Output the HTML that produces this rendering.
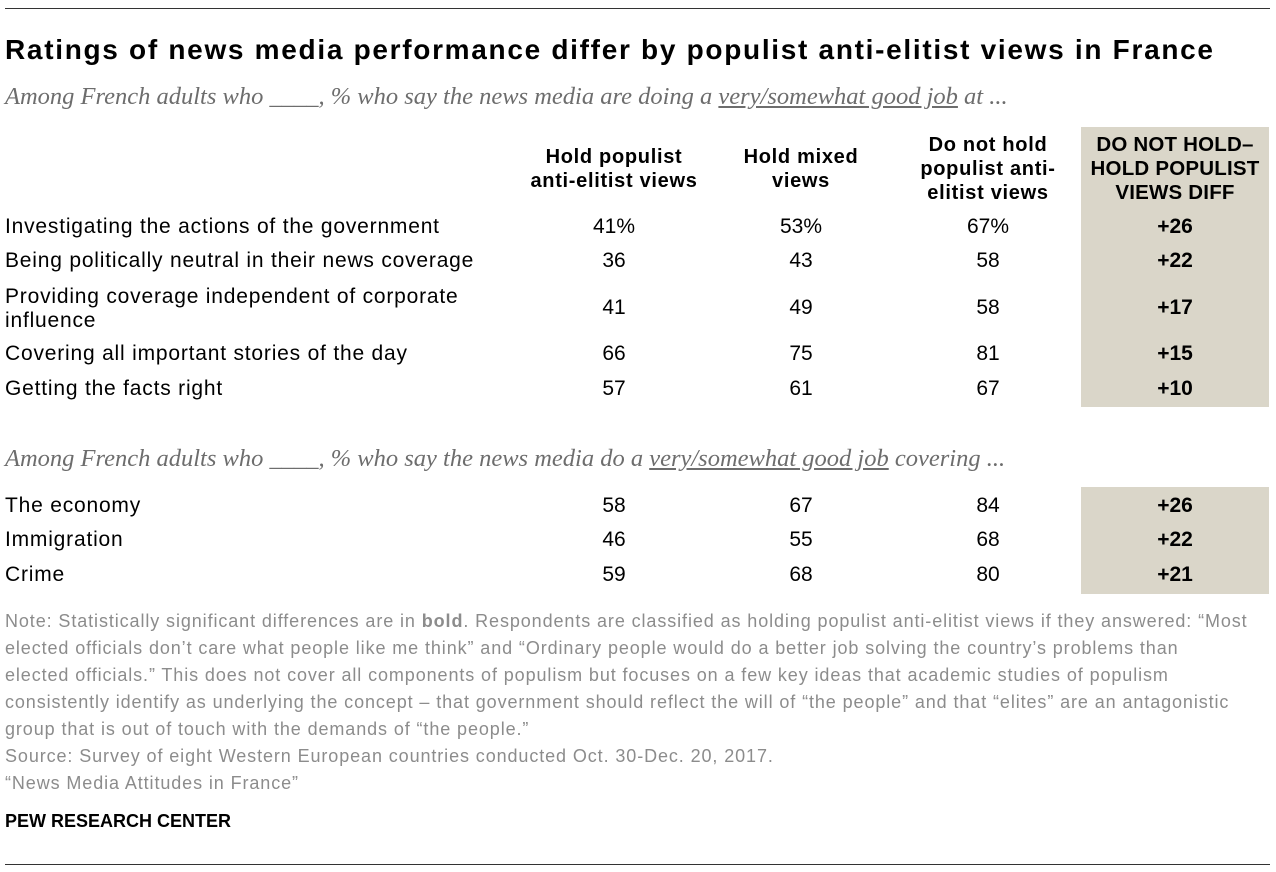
<!DOCTYPE html>
<html><head><meta charset="utf-8"><style>
body{margin:0;width:1276px;height:872px;background:#fff;position:relative;overflow:hidden;font-family:"Liberation Sans",sans-serif;color:#000}
.a{position:absolute;white-space:nowrap;line-height:24px}
.l{left:5px;font-size:21px;letter-spacing:0.8px}
.c{text-align:center;width:180px;font-size:21px}
.h{font-weight:bold;font-size:20px;letter-spacing:0.7px}
.d{font-weight:bold}
.sub{font-family:"Liberation Serif",serif;font-style:italic;font-size:24.5px;color:#6d6d6d;left:5px}
.n{left:5px;font-size:18px;letter-spacing:0.9px;color:#8c8c8c;line-height:27px}
.box{position:absolute;left:1081px;width:188px;background:#dad6c9}
.rule{position:absolute;left:5px;width:1265px;height:1px;background:#333}
</style></head><body>
<div class="rule" style="top:8px"></div>
<div class="a" style="left:5px;top:34px;font-size:28px;letter-spacing:1.7px;font-weight:bold;line-height:32px">Ratings of news media performance differ by populist anti-elitist views in France</div>
<div class="a sub" style="top:85px">Among French adults who ____, % who say the news media are doing a <u>very/somewhat good job</u> at ...</div>
<div class="box" style="top:127px;height:280px"></div>
<div class="box" style="top:487px;height:107px"></div>
<div class="a c h" style="left:524px;top:145px">Hold populist<br>anti-elitist views</div>
<div class="a c h" style="left:711px;top:145px">Hold mixed<br>views</div>
<div class="a c h" style="left:898px;top:133px">Do not hold<br>populist anti-<br>elitist views</div>
<div class="a c h" style="left:1085px;top:133px;font-size:20.5px;letter-spacing:0.2px">DO NOT HOLD–<br>HOLD POPULIST<br>VIEWS DIFF</div>

<div class="a l" style="top:215px">Investigating the actions of the government</div>
<div class="a c" style="left:524px;top:215px">41%</div>
<div class="a c" style="left:711px;top:215px">53%</div>
<div class="a c" style="left:898px;top:215px">67%</div>
<div class="a c d" style="left:1085px;top:215px">+26</div>

<div class="a l" style="top:249px">Being politically neutral in their news coverage</div>
<div class="a c" style="left:524px;top:249px">36</div>
<div class="a c" style="left:711px;top:249px">43</div>
<div class="a c" style="left:898px;top:249px">58</div>
<div class="a c d" style="left:1085px;top:249px">+22</div>

<div class="a l" style="top:285px">Providing coverage independent of corporate<br>influence</div>
<div class="a c" style="left:524px;top:296px">41</div>
<div class="a c" style="left:711px;top:296px">49</div>
<div class="a c" style="left:898px;top:296px">58</div>
<div class="a c d" style="left:1085px;top:296px">+17</div>

<div class="a l" style="top:342px">Covering all important stories of the day</div>
<div class="a c" style="left:524px;top:342px">66</div>
<div class="a c" style="left:711px;top:342px">75</div>
<div class="a c" style="left:898px;top:342px">81</div>
<div class="a c d" style="left:1085px;top:342px">+15</div>

<div class="a l" style="top:377px">Getting the facts right</div>
<div class="a c" style="left:524px;top:377px">57</div>
<div class="a c" style="left:711px;top:377px">61</div>
<div class="a c" style="left:898px;top:377px">67</div>
<div class="a c d" style="left:1085px;top:377px">+10</div>

<div class="a sub" style="top:447px">Among French adults who ____, % who say the news media do a <u>very/somewhat good job</u> covering ...</div>

<div class="a l" style="top:494px">The economy</div>
<div class="a c" style="left:524px;top:494px">58</div>
<div class="a c" style="left:711px;top:494px">67</div>
<div class="a c" style="left:898px;top:494px">84</div>
<div class="a c d" style="left:1085px;top:494px">+26</div>

<div class="a l" style="top:528px">Immigration</div>
<div class="a c" style="left:524px;top:528px">46</div>
<div class="a c" style="left:711px;top:528px">55</div>
<div class="a c" style="left:898px;top:528px">68</div>
<div class="a c d" style="left:1085px;top:528px">+22</div>

<div class="a l" style="top:563px">Crime</div>
<div class="a c" style="left:524px;top:563px">59</div>
<div class="a c" style="left:711px;top:563px">68</div>
<div class="a c" style="left:898px;top:563px">80</div>
<div class="a c d" style="left:1085px;top:563px">+21</div>

<div class="a n" style="top:608px">Note: Statistically significant differences are in <b>bold</b>. Respondents are classified as holding populist anti-elitist views if they answered: “Most<br>elected officials don’t care what people like me think” and “Ordinary people would do a better job solving the country’s problems than<br>elected officials.” This does not cover all components of populism but focuses on a few key ideas that academic studies of populism<br>consistently identify as underlying the concept – that government should reflect the will of “the people” and that “elites” are an antagonistic<br>group that is out of touch with the demands of “the people.”<br>Source: Survey of eight Western European countries conducted Oct. 30-Dec. 20, 2017.<br>“News Media Attitudes in France”</div>
<div class="a" style="left:5px;top:809px;font-size:18px;font-weight:bold">PEW RESEARCH CENTER</div>
<div class="rule" style="top:864px"></div>
</body></html>
